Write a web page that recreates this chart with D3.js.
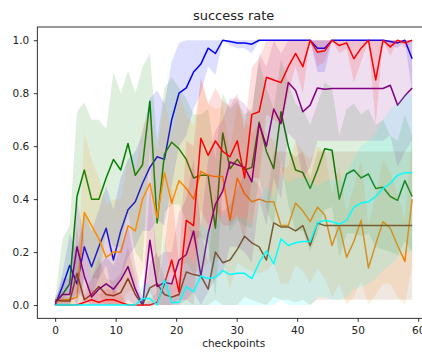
<!DOCTYPE html>
<html>
<head>
<meta charset="utf-8">
<script src="https://cdn.jsdelivr.net/npm/d3@7"></script>
<style>
  html, body { margin: 0; padding: 0; background: #fff; }
  text { font-family: 'DejaVu Sans', sans-serif; }
</style>
</head>
<body>
<div id="chart"></div>
<script>
// 50 checkpoints spread over 0..59
const checkpoints = d3.range(50).map(k => (k * 59) / 49)

const xTicks = [0, 10, 20, 30, 40, 50, 60]
const yTicks = [0, 0.2, 0.4, 0.6, 0.8, 1.0]

const blueMean = [0.0, 0.07, 0.15, 0.08, 0.22, 0.145, 0.22, 0.29, 0.17, 0.28,
  0.36, 0.39, 0.46, 0.52, 0.56, 0.55, 0.7, 0.8, 0.82, 0.88,
  0.91, 0.97, 0.95, 1.0, 0.995, 0.99, 0.99, 0.985, 1.0, 1.0,
  1.0, 1.0, 1.0, 1.0, 1.0, 1.0, 0.97, 0.97, 1.0, 1.0,
  1.0, 1.0, 1.0, 1.0, 1.0, 1.0, 0.995, 0.99, 1.0, 0.93]
const blueUp = [0.01, 0.12, 0.27, 0.2, 0.35, 0.28, 0.36, 0.45, 0.36, 0.48,
  0.55, 0.58, 0.65, 0.78, 0.81, 0.76, 0.92, 0.99, 1.0, 1.0,
  1.0, 1.0, 1.0, 1.0, 1.0, 1.0, 1.0, 1.0, 1.0, 1.0,
  1.0, 1.0, 1.0, 1.0, 1.0, 1.0, 1.0, 1.0, 1.0, 1.0,
  1.0, 1.0, 1.0, 1.0, 1.0, 1.0, 1.0, 1.0, 1.0, 1.0]
const blueLo = [0, 0.02, 0.05, 0, 0.1, 0.03, 0.1, 0.15, 0.03, 0.1,
  0.18, 0.22, 0.28, 0.28, 0.32, 0.3, 0.45, 0.6, 0.64, 0.74,
  0.8, 0.9, 0.87, 1.0, 0.98, 0.97, 0.97, 0.95, 1.0, 1.0,
  1.0, 1.0, 1.0, 1.0, 1.0, 1.0, 0.88, 0.88, 1.0, 1.0,
  1.0, 1.0, 1.0, 1.0, 1.0, 1.0, 0.98, 0.97, 1.0, 0.8]

const redMean = [0, 0, 0, 0, 0.01, 0.02, 0.01, 0.02, 0.02, 0.01,
  0, 0, 0, 0, 0.01, 0.08, 0.17, 0.05, 0.32, 0.3,
  0.63, 0.565, 0.62, 0.58, 0.56, 0.62, 0.48, 0.72, 0.73, 0.86,
  0.85, 0.84, 0.9, 0.95, 0.9, 1.0, 0.955, 0.96, 1.0, 0.98,
  0.99, 0.93, 0.97, 1.0, 0.85, 1.0, 0.975, 1.0, 0.99, 1.0]
const redUp = [0, 0, 0, 0, 0.04, 0.06, 0.04, 0.06, 0.06, 0.04,
  0, 0, 0, 0.02, 0.05, 0.22, 0.45, 0.15, 0.62, 0.6,
  0.86, 0.76, 0.82, 0.77, 0.75, 0.8, 0.66, 0.9, 0.93, 1.0,
  1.0, 1.0, 1.0, 1.0, 1.0, 1.0, 1.0, 1.0, 1.0, 1.0,
  1.0, 1.0, 1.0, 1.0, 1.0, 1.0, 1.0, 1.0, 1.0, 1.0]
const redLo = [0, 0, 0, 0, 0, 0, 0, 0, 0, 0,
  0, 0, 0, 0, 0, 0, 0, 0, 0.02, 0,
  0.36, 0.3, 0.36, 0.3, 0.3, 0.34, 0.24, 0.48, 0.48, 0.72,
  0.7, 0.68, 0.8, 0.9, 0.8, 1.0, 0.9, 0.92, 1.0, 0.95,
  0.97, 0.84, 0.92, 1.0, 0.68, 1.0, 0.94, 1.0, 0.97, 1.0]

const greenMean = [0.01, 0.04, 0.08, 0.41, 0.51, 0.4, 0.4, 0.48, 0.55, 0.51,
  0.61, 0.49, 0.53, 0.77, 0.31, 0.57, 0.615, 0.59, 0.55, 0.48,
  0.49, 0.49, 0.29, 0.65, 0.515, 0.55, 0.51, 0.52, 0.69, 0.58,
  0.515, 0.73, 0.6, 0.51, 0.5, 0.44, 0.51, 0.59, 0.585, 0.4,
  0.495, 0.51, 0.48, 0.495, 0.44, 0.445, 0.41, 0.395, 0.47, 0.41]
const greenUp = [0.02, 0.25, 0.3, 0.73, 0.765, 0.7, 0.7, 0.665, 0.88, 0.8,
  0.885, 0.8, 0.9, 0.95, 0.62, 0.82, 0.86, 0.82, 0.78, 0.72,
  0.72, 0.74, 0.55, 0.8, 0.74, 0.77, 0.72, 0.74, 0.92, 0.82,
  0.74, 0.93, 0.84, 0.76, 0.74, 0.68, 0.76, 0.84, 0.82, 0.64,
  0.74, 0.76, 0.72, 0.74, 0.68, 0.7, 0.64, 0.62, 0.72, 0.64]
const greenLo = [0, 0, 0, 0.1, 0.25, 0.1, 0.1, 0.28, 0.22, 0.22,
  0.35, 0.2, 0.16, 0.6, 0.02, 0.35, 0.38, 0.38, 0.32, 0.24,
  0.26, 0.23, 0.03, 0.45, 0.28, 0.32, 0.3, 0.29, 0.48, 0.36,
  0.3, 0.54, 0.38, 0.28, 0.28, 0.2, 0.27, 0.36, 0.37, 0.18,
  0.27, 0.27, 0.26, 0.27, 0.22, 0.21, 0.2, 0.19, 0.24, 0.2]

const orangeMean = [0.01, 0.02, 0.02, 0.03, 0.35, 0.3, 0.25, 0.18, 0.2, 0.2,
  0.3, 0.28, 0.4, 0.46, 0.33, 0.5, 0.385, 0.47, 0.44, 0.4,
  0.505, 0.49, 0.485, 0.485, 0.32, 0.48, 0.42, 0.39, 0.4, 0.39,
  0.39, 0.3, 0.3, 0.385, 0.355, 0.315, 0.37, 0.34, 0.225, 0.3,
  0.18, 0.24, 0.32, 0.14, 0.23, 0.315, 0.29, 0.225, 0.165, 0.4]
const orangeUp = [0.02, 0.05, 0.05, 0.08, 0.65, 0.55, 0.48, 0.38, 0.4, 0.4,
  0.55, 0.5, 0.68, 0.72, 0.58, 0.78, 0.65, 0.8, 0.72, 0.68,
  0.85, 0.76, 0.74, 0.75, 0.58, 0.76, 0.7, 0.65, 0.68, 0.65,
  0.62, 0.52, 0.52, 0.62, 0.58, 0.55, 0.6, 0.58, 0.42, 0.52,
  0.35, 0.45, 0.55, 0.3, 0.42, 0.55, 0.5, 0.42, 0.32, 0.65]
const orangeLo = [0, 0, 0, 0, 0.05, 0.05, 0.04, 0, 0, 0,
  0.05, 0.06, 0.12, 0.2, 0.08, 0.22, 0.12, 0.15, 0.16, 0.12,
  0.13, 0.16, 0.18, 0.17, 0.06, 0.16, 0.14, 0.13, 0.12, 0.13,
  0.16, 0.08, 0.08, 0.15, 0.13, 0.08, 0.14, 0.1, 0.03, 0.08,
  0, 0.03, 0.09, 0, 0.04, 0.08, 0.08, 0.03, 0, 0.15]

const purpleMean = [0.01, 0.04, 0.04, 0.22, 0.11, 0.03, 0.06, 0.08, 0.06, 0.095,
  0.145, 0.06, 0.0, 0.245, 0.07, 0.085, 0.08, 0.17, 0.19, 0.28,
  0.11, 0.27, 0.38, 0.43, 0.54, 0.53, 0.52, 0.465, 0.685, 0.6,
  0.74, 0.685, 0.84, 0.81, 0.73, 0.755, 0.82, 0.815, 0.818, 0.818,
  0.818, 0.818, 0.818, 0.818, 0.818, 0.818, 0.83, 0.755, 0.79, 0.82]
const purpleUp = [0.02, 0.1, 0.1, 0.4, 0.25, 0.1, 0.15, 0.18, 0.15, 0.22,
  0.3, 0.15, 0.02, 0.45, 0.18, 0.2, 0.2, 0.35, 0.4, 0.55,
  0.3, 0.55, 0.66, 0.7, 0.78, 0.78, 0.76, 0.72, 0.95, 0.9,
  1.0, 0.95, 1.0, 1.0, 1.0, 1.0, 1.0, 1.0, 1.0, 1.0,
  1.0, 1.0, 1.0, 1.0, 1.0, 1.0, 1.0, 1.0, 1.0, 1.0]
const purpleLo = [0, 0, 0, 0.05, 0.02, 0, 0, 0, 0, 0,
  0.02, 0, 0, 0.05, 0, 0, 0, 0.02, 0.02, 0.05,
  0, 0.05, 0.1, 0.12, 0.22, 0.22, 0.2, 0.16, 0.4, 0.3,
  0.48, 0.4, 0.65, 0.62, 0.48, 0.52, 0.62, 0.62, 0.62, 0.62,
  0.62, 0.62, 0.62, 0.62, 0.62, 0.62, 0.64, 0.52, 0.58, 0.62]

const cyanMean = [0, 0, 0, 0, 0, 0, 0, 0, 0, 0,
  0, 0, 0.025, 0.025, 0, 0.095, 0.01, 0.01, 0.07, 0.05,
  0.11, 0.1, 0.105, 0.13, 0.115, 0.12, 0.12, 0.1, 0.16, 0.205,
  0.155, 0.25, 0.225, 0.235, 0.24, 0.24, 0.31, 0.32, 0.315, 0.305,
  0.32, 0.37, 0.385, 0.39, 0.41, 0.44, 0.46, 0.49, 0.5, 0.5]
const cyanUp = [0, 0, 0, 0, 0, 0, 0, 0, 0, 0,
  0, 0, 0.08, 0.08, 0, 0.28, 0.03, 0.03, 0.2, 0.15,
  0.3, 0.28, 0.3, 0.35, 0.32, 0.33, 0.33, 0.3, 0.4, 0.45,
  0.4, 0.5, 0.46, 0.48, 0.48, 0.47, 0.45, 0.47, 0.47, 0.47,
  0.5, 0.55, 0.6, 0.62, 0.65, 0.7, 0.74, 0.76, 0.8, 0.8]
const cyanLo = [0, 0, 0, 0, 0, 0, 0, 0, 0, 0,
  0, 0, 0, 0, 0, 0, 0, 0, 0, 0,
  0, 0, 0, 0, 0, 0, 0, 0, 0, 0,
  0, 0.02, 0, 0, 0, 0, 0.03, 0.03, 0.02, 0.02,
  0.03, 0.06, 0.07, 0.08, 0.1, 0.13, 0.15, 0.18, 0.2, 0.2]

const brownMean = [0.02, 0.015, 0.015, 0.12, 0.02, 0.04, 0.07, 0.04, 0.035, 0.047,
  0.1, 0.04, 0.0, 0.065, 0.08, 0.04, 0.03, 0.04, 0.125, 0.115,
  0.11, 0.06, 0.2, 0.16, 0.17, 0.21, 0.26, 0.235, 0.22, 0.17,
  0.31, 0.295, 0.295, 0.28, 0.3, 0.225, 0.31, 0.3, 0.3, 0.3,
  0.3, 0.3, 0.3, 0.3, 0.3, 0.3, 0.3, 0.3, 0.3, 0.3]
const brownUp = [0.04, 0.03, 0.03, 0.3, 0.05, 0.1, 0.18, 0.1, 0.09, 0.12,
  0.22, 0.1, 0.0, 0.16, 0.2, 0.1, 0.08, 0.1, 0.3, 0.28,
  0.28, 0.16, 0.42, 0.35, 0.38, 0.44, 0.5, 0.48, 0.45, 0.38,
  0.58, 0.58, 0.58, 0.56, 0.58, 0.48, 0.58, 0.58, 0.58, 0.58,
  0.58, 0.58, 0.58, 0.58, 0.58, 0.58, 0.58, 0.58, 0.58, 0.58]
const brownLo = [0, 0, 0, 0, 0, 0, 0, 0, 0, 0,
  0, 0, 0, 0, 0, 0, 0, 0, 0, 0,
  0, 0, 0.02, 0, 0, 0, 0.03, 0.02, 0.01, 0,
  0.03, 0.02, 0.02, 0.01, 0.02, 0, 0.02, 0.02, 0.02, 0.02,
  0.02, 0.02, 0.02, 0.02, 0.02, 0.02, 0.02, 0.02, 0.02, 0.02]

// drawing order: band then line, later ones on top
const series = [
  { color: '#0000ff', mean: blueMean, up: blueUp, lo: blueLo },
  { color: '#008000', mean: greenMean, up: greenUp, lo: greenLo },
  { color: '#ff8c00', mean: orangeMean, up: orangeUp, lo: orangeLo },
  { color: '#8b4513', mean: brownMean, up: brownUp, lo: brownLo },
  { color: '#800080', mean: purpleMean, up: purpleUp, lo: purpleLo },
  { color: '#ff0000', mean: redMean, up: redUp, lo: redLo },
  { color: '#00ffff', mean: cyanMean, up: cyanUp, lo: cyanLo },
]

const W = 422
const H = 352
const plot = { left: 37.3, right: 430, top: 27, bottom: 318.3 }

const svg = d3.select('#chart').append('svg')
  .attr('width', W)
  .attr('height', H)

const xScale = d3.scaleLinear().domain([-2.95, 61.95]).range([plot.left, plot.right])
const yScale = d3.scaleLinear().domain([-0.05, 1.05]).range([plot.bottom, plot.top])

// bands + lines
series.forEach(({ color, mean, up, lo }) => {
  const area = d3.area()
    .x((d, i) => xScale(checkpoints[i]))
    .y0((d, i) => yScale(lo[i]))
    .y1((d, i) => yScale(up[i]))
  svg.append('path')
    .datum(mean)
    .attr('fill', color)
    .attr('fill-opacity', 0.13)
    .attr('stroke', 'none')
    .attr('d', area)

  const line = d3.line()
    .x((d, i) => xScale(checkpoints[i]))
    .y(d => yScale(d))
  svg.append('path')
    .datum(mean)
    .attr('fill', 'none')
    .attr('stroke', color)
    .attr('stroke-width', 1.5)
    .attr('stroke-linejoin', 'round')
    .attr('d', line)
})

// axes
const xAxis = svg.append('g')
  .attr('transform', `translate(0,${plot.bottom})`)
  .call(d3.axisBottom(xScale).tickValues(xTicks).tickSize(3.5).tickPadding(4.5).tickFormat(d3.format('d')))
const yAxis = svg.append('g')
  .attr('transform', `translate(${plot.left},0)`)
  .call(d3.axisLeft(yScale).tickValues(yTicks).tickSize(3.5).tickPadding(4.5).tickFormat(d3.format('.1f')))

;[xAxis, yAxis].forEach(g => {
  g.select('.domain').remove()
  g.selectAll('line').attr('stroke', '#000').attr('stroke-width', 0.8)
  g.selectAll('text')
    .attr('fill', '#222')
    .style('font-family', "'DejaVu Sans', sans-serif")
    .style('font-size', '10.5px')
})

// spines
svg.append('rect')
  .attr('x', plot.left)
  .attr('y', plot.top)
  .attr('width', plot.right - plot.left)
  .attr('height', plot.bottom - plot.top)
  .attr('fill', 'none')
  .attr('stroke', '#000')
  .attr('stroke-width', 0.8)

// title and label
svg.append('text')
  .attr('x', (plot.left + plot.right) / 2)
  .attr('y', 20)
  .attr('text-anchor', 'middle')
  .attr('fill', '#222')
  .style('font-size', '13px')
  .text('success rate')

svg.append('text')
  .attr('x', (plot.left + plot.right) / 2)
  .attr('y', 347)
  .attr('text-anchor', 'middle')
  .attr('fill', '#222')
  .style('font-size', '10.5px')
  .text('checkpoints')
</script>
</body>
</html>
